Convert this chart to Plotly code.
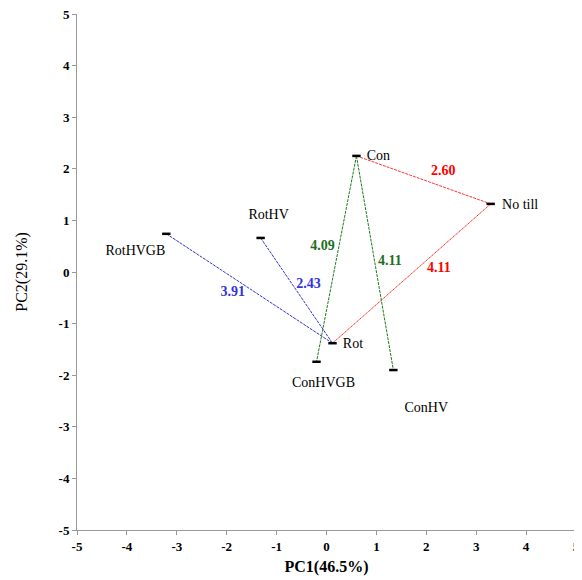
import plotly.graph_objects as go

names = ["Con", "No till", "RotHVGB", "RotHV", "Rot", "ConHVGB", "ConHV"]
pc1 = [0.60, 3.29, -3.21, -1.32, 0.12, -0.20, 1.34]
pc2 = [2.25, 1.32, 0.74, 0.66, -1.38, -1.74, -1.90]
pt = dict(zip(names, zip(pc1, pc2)))

tick_vals = [-5, -4, -3, -2, -1, 0, 1, 2, 3, 4, 5]
tick_text = ["-5", "-4", "-3", "-2", "-1", "0", "1", "2", "3", "4", "5"]

# label positions (data units) for point names
label_pos = {
    "Con": (1.04, 2.23), "No till": (3.88, 1.28), "RotHVGB": (-3.83, 0.40),
    "RotHV": (-1.16, 1.09), "Rot": (0.53, -1.40), "ConHVGB": (-0.06, -2.16),
    "ConHV": (2.00, -2.64),
}

links = [("Con", "No till", "red"), ("No till", "Rot", "red"),
         ("RotHVGB", "Rot", "blue"), ("RotHV", "Rot", "blue"),
         ("Con", "ConHVGB", "green"), ("Con", "ConHV", "green")]
dist_text = ["2.60", "4.11", "3.91", "2.43", "4.09", "4.11"]
dist_x = [2.34, 2.25, -1.88, -0.36, -0.08, 1.27]
dist_y = [1.94, 0.07, -0.39, -0.24, 0.50, 0.20]
dist_col = ["#ff0000", "#ff0000", "#3333dd", "#3333dd", "#1e6e1e", "#1e6e1e"]
line_col = {"red": "#ff3333", "blue": "#3333cc", "green": "#1e7a1e"}

fig = go.Figure()
for a, b, c in links:
    fig.add_trace(go.Scatter(x=[pt[a][0], pt[b][0]], y=[pt[a][1], pt[b][1]], mode="lines",
                             line=dict(color=line_col[c], width=1, dash="3px,1px"),
                             hoverinfo="skip", showlegend=False))
fig.add_trace(go.Scatter(x=pc1, y=pc2, mode="markers",
                         marker=dict(symbol="line-ew", size=6, line=dict(width=2.5, color="black")),
                         showlegend=False))
fig.add_trace(go.Scatter(x=[label_pos[n][0] for n in names], y=[label_pos[n][1] for n in names],
                         mode="text", text=names,
                         textfont=dict(family="Liberation Serif", size=14, color="black"),
                         showlegend=False))
fig.add_trace(go.Scatter(x=dist_x, y=dist_y, mode="text", text=["<b>%s</b>" % t for t in dist_text],
                         textfont=dict(family="Liberation Serif", size=14, color=dist_col),
                         showlegend=False))

axis_common = dict(range=[-5, 5], tickmode="array", tickvals=tick_vals,
                   ticktext=["<b>%s</b>" % t for t in tick_text],
                   showgrid=False, zeroline=False, automargin=False,
                   ticklabeloverflow="allow",
                   showline=True, linecolor="#999999", linewidth=1,
                   ticks="outside", ticklen=4, tickcolor="#999999",
                   tickfont=dict(family="Liberation Serif", size=13, color="black"))
fig.update_layout(
    width=574, height=572, plot_bgcolor="white", paper_bgcolor="white",
    margin=dict(l=69, r=6, t=6, b=50),
    font=dict(family="Liberation Serif", color="black"),
    xaxis=dict(**axis_common, title=dict(text="<b>PC1(46.5%)</b>", font=dict(size=16), standoff=8)),
    yaxis=dict(**axis_common, title=dict(text="PC2(29.1%)", font=dict(size=16), standoff=26)),
)
fig.write_html("out.html")
